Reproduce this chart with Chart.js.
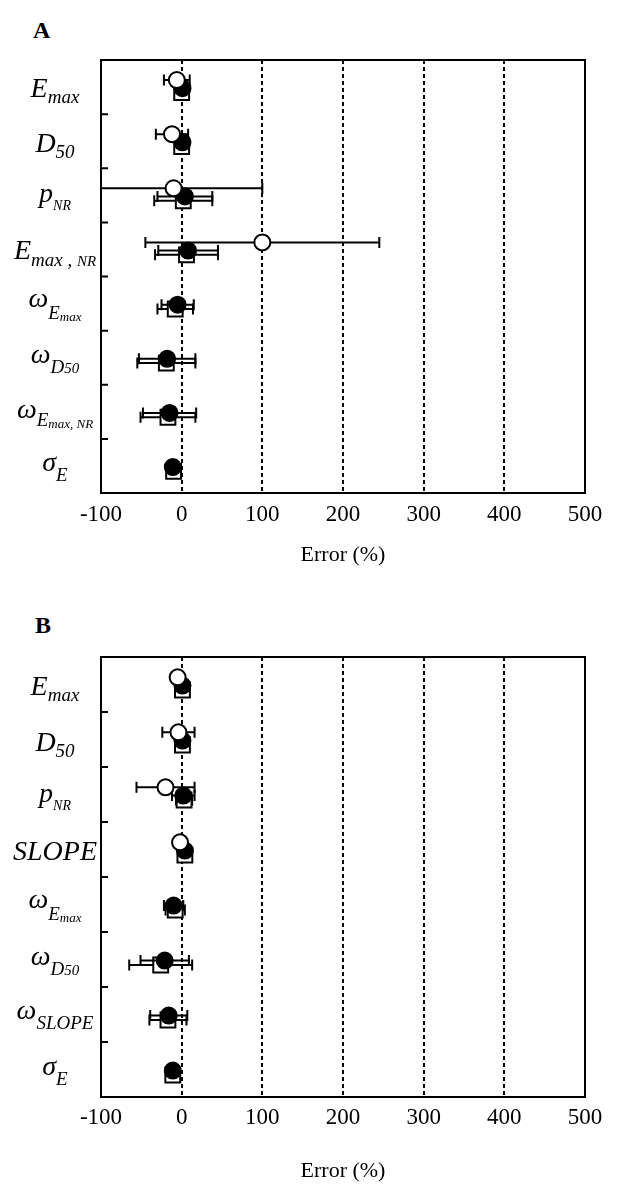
<!DOCTYPE html>
<html><head><meta charset="utf-8">
<script src="https://cdn.jsdelivr.net/npm/chart.js@4.4.0/dist/chart.umd.min.js"></script>
<style>
html,body{margin:0;padding:0;background:#fff;}
body{width:619px;height:1186px;position:relative;overflow:hidden;}
.panel{position:absolute;left:0;width:619px;}
.letter{position:absolute;font-family:"Liberation Serif",serif;font-weight:bold;font-size:24px;line-height:1;color:#000;}
</style></head><body>
<div class="letter" style="left:33px;top:18px">A</div>
<div class="letter" style="left:35px;top:613px">B</div>
<div class="panel" style="top:0;height:590px"><canvas id="cA"></canvas></div>
<div class="panel" style="top:590px;height:596px"><canvas id="cB"></canvas></div>
<script>
// ---- data ----
const catsA = ['Emax','D50','pNR','Emax,NR','ωEmax','ωD50','ωEmax,NR','σE'];
const catsB = ['Emax','D50','pNR','SLOPE','ωEmax','ωD50','ωSLOPE','σE'];
const xTicks = [-100, 0, 100, 200, 300, 400, 500];
const xTitle = 'Error (%)';

const openA      = [-6, -12, -10, 100, null, null, null, null];
const openErrA   = [16, 20, 110, 145, null, null, null, null];
const filledA    = [1, 1, 4, 8, -5, -18, -15, -11];
const filledErrA = [8, 8, 34, 37, 20, 35, 33, 3];
const squareA    = [0, 0, 2, 6, -8, -19, -17, -10];
const squareErrA = [6, 6, 36, 39, 22, 36, 34, 3];

const openB      = [-5, -4, -20, -2, null, null, null, null];
const openErrB   = [4, 20, 36, 4, null, null, null, null];
const filledB    = [1, 1, 2, 4, -10, -21, -16, -11];
const filledErrB = [4, 4, 14, 4, 12, 30, 23, 3];
const squareB    = [1, 1, 3, 4, -8, -26, -17, -11];
const squareErrB = [4, 4, 10, 4, 12, 39, 23, 3];

// ---- label typography (runs: text, font size, baseline offset from row centre) ----
const RICH = {
  'Emax':     [['E',28,10],['max',19,16]],
  'D50':      [['D',28,11],['50',19,17]],
  'pNR':      [['p',28,7],['NR',14,15]],
  'Emax,NR':  [['E',28,10],['max , ',19,17],['NR',15,17]],
  'ωEmax':    [['ω',28,3],['E',19,15],['max',13,17]],
  'ωD50':     [['ω',28,5],['D',19,15],['50',15,15]],
  'ωEmax,NR': [['ω',28,6],['E',19,14],['max, NR',13,16]],
  'σE':       [['σ',28,5],['E',19,15]],
  'SLOPE':    [['SLOPE',28,10]],
  'ωSLOPE':   [['ω',28,4],['SLOPE',19,14]]
};
const FONT = '"Liberation Serif","Times New Roman",serif';

function pts(means, errs, off) {
  const out = [];
  means.forEach((m, i) => { if (m !== null) out.push({x: m, y: i + off, e: errs[i]}); });
  return out;
}

const panelPlugin = {
  id: 'panel',
  beforeDatasetDraw(chart, args) {
    const ds = chart.data.datasets[args.index];
    const meta = args.meta, xs = chart.scales.x, ctx = chart.ctx, a = chart.chartArea;
    ctx.save();
    ctx.beginPath(); ctx.rect(a.left, a.top, a.right - a.left, a.bottom - a.top); ctx.clip();
    ctx.strokeStyle = '#000'; ctx.lineWidth = 2; ctx.setLineDash([]);
    ds.data.forEach((p, i) => {
      const el = meta.data[i];
      if (!el || p.e == null) return;
      const y = el.y, x1 = xs.getPixelForValue(p.x - p.e), x2 = xs.getPixelForValue(p.x + p.e);
      ctx.beginPath();
      ctx.moveTo(x1, y); ctx.lineTo(x2, y);
      ctx.moveTo(x1, y - 5.5); ctx.lineTo(x1, y + 5.5);
      ctx.moveTo(x2, y - 5.5); ctx.lineTo(x2, y + 5.5);
      ctx.stroke();
    });
    ctx.restore();
  },
  afterDraw(chart, args, opts) {
    const ctx = chart.ctx, a = chart.chartArea, ys = chart.scales.y;
    ctx.save();
    ctx.setLineDash([]);
    ctx.strokeStyle = '#000'; ctx.lineWidth = 2;
    ctx.strokeRect(a.left, a.top, a.right - a.left, a.bottom - a.top);
    const cats = opts.cats;
    ctx.beginPath();
    for (let i = 0; i < cats.length - 1; i++) {
      const y = ys.getPixelForValue(i + 0.5);
      ctx.moveTo(a.left, y); ctx.lineTo(a.left + 7, y);
    }
    ctx.stroke();
    ctx.fillStyle = '#000';
    ctx.textBaseline = 'alphabetic';
    ctx.textAlign = 'left';
    cats.forEach((c, i) => {
      const runs = RICH[c];
      const yc = ys.getPixelForValue(i);
      let w = 0;
      runs.forEach(r => { ctx.font = 'italic ' + r[1] + 'px ' + FONT; w += ctx.measureText(r[0]).width; });
      let x = 55 - w / 2;
      runs.forEach(r => {
        ctx.font = 'italic ' + r[1] + 'px ' + FONT;
        ctx.fillText(r[0], x, yc + r[2]);
        x += ctx.measureText(r[0]).width;
      });
    });
    ctx.restore();
  }
};

function makeChart(id, cats, oM, oE, fM, fE, sM, sE, padTop, padBottom, axisH, tickPad) {
  return new Chart(document.getElementById(id), {
    type: 'scatter',
    data: {
      datasets: [
        {data: pts(oM, oE, -0.13), pointStyle: 'circle', pointRadius: 8, borderWidth: 2,
         borderColor: '#000', backgroundColor: '#fff'},
        {data: pts(fM, fE, 0.02), pointStyle: 'circle', pointRadius: 8, borderWidth: 2,
         borderColor: '#000', backgroundColor: '#000'},
        {data: pts(sM, sE, 0.10), pointStyle: 'rect', pointRadius: 10.5, borderWidth: 2,
         borderColor: '#000', backgroundColor: '#fff'}
      ]
    },
    options: {
      responsive: true, maintainAspectRatio: false, animation: false, events: [],
      layout: {padding: {left: 101, right: 34, top: padTop, bottom: padBottom}},
      plugins: {legend: {display: false}, tooltip: {enabled: false}, panel: {cats: cats}},
      scales: {
        x: {
          type: 'linear', min: -100, max: 500,
          afterBuildTicks: s => { s.ticks = xTicks.map(v => ({value: v})); },
          afterFit: s => { s.height = axisH; },
          grid: {color: '#000', lineWidth: 2, drawTicks: false},
          border: {display: true, color: '#000', width: 2, dash: [4, 3]},
          ticks: {color: '#000', font: {family: FONT, size: 23}, padding: tickPad, maxRotation: 0, autoSkip: false},
          title: {display: true, text: xTitle, color: '#000', font: {family: FONT, size: 22}, padding: {top: 0, bottom: 0}}
        },
        y: {type: 'linear', min: -0.5, max: 7.5, reverse: true, display: false}
      }
    },
    plugins: [panelPlugin]
  });
}

makeChart('cA', catsA, openA, openErrA, filledA, filledErrA, squareA, squareErrA, 60, 22, 75, 8);
makeChart('cB', catsB, openB, openErrB, filledB, filledErrB, squareB, squareErrB, 67, 2, 87, 7);
</script>
</body></html>
